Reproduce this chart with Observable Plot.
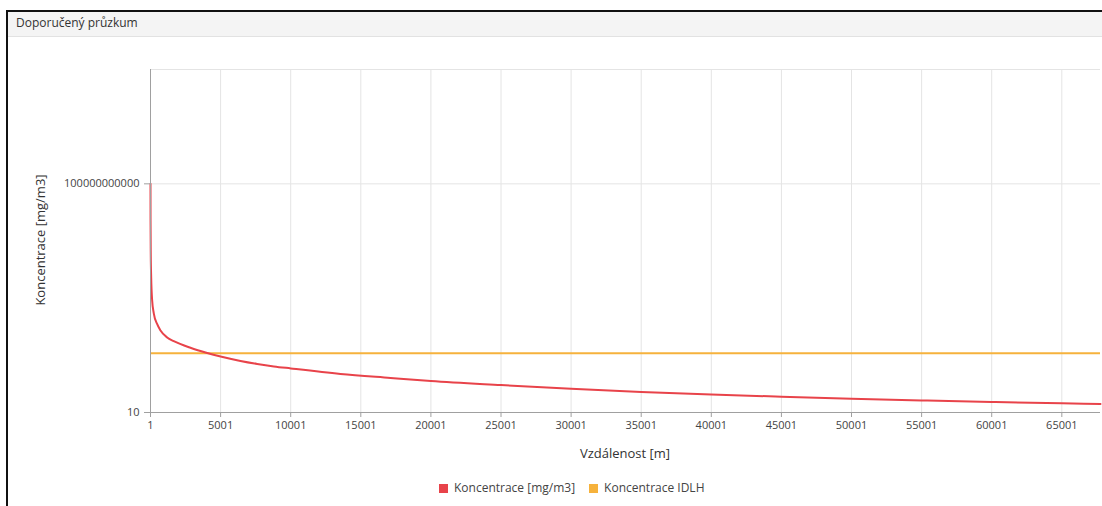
<!DOCTYPE html>
<html>
<head>
<meta charset="utf-8">
<script src="https://cdn.jsdelivr.net/npm/d3@7"></script>
<script src="https://cdn.jsdelivr.net/npm/@observablehq/plot@0.6"></script>
<style>
  html, body { margin: 0; padding: 0; background: #fff; width: 1102px; height: 506px; overflow: hidden; font-family: "Open Sans", "Noto Sans", sans-serif; }
  #panel { position: absolute; left: 6px; top: 10px; right: 0; bottom: 0; border-top: 2px solid #111; border-left: 2px solid #111; }
  #header { position: absolute; left: 8px; top: 12px; right: 0; height: 24px; background: #f4f4f4; border-bottom: 1px solid #e2e2e2; }
  #title { position: absolute; left: 16px; top: 14px; font-size: 12px; color: #333; line-height: 18px; }
  #chart { position: absolute; left: 0; top: 40px; }
  #ylabel { position: absolute; left: 40px; top: 240px; transform: translate(-50%, -50%) rotate(-90deg); font-size: 13px; color: #333; white-space: nowrap; }
  #xlabel { position: absolute; left: 625px; top: 453px; transform: translate(-50%, -50%); font-size: 13px; color: #333; white-space: nowrap; }
  #legend { position: absolute; left: 439px; top: 480px; font-size: 12px; color: #444; white-space: nowrap; line-height: 16px; }
  .item { display: inline-block; margin-right: 14px; }
  .sw { display: inline-block; width: 9px; height: 9px; margin-right: 6px; vertical-align: -0.5px; }
</style>
</head>
<body>
<div id="panel"></div>
<div id="header"></div>
<div id="title">Doporučený průzkum</div>
<div id="chart"></div>
<div id="ylabel">Koncentrace [mg/m3]</div>
<div id="xlabel">Vzdálenost [m]</div>
<div id="legend"></div>
<script>
// Distance from source [m]
const distances = [1, 5, 20, 50, 120, 235, 480, 715, 1190, 1660, 2850, 4045, 5000, 6420, 7610, 8800, 10000, 13550, 17120, 20000, 25000, 30000, 35000, 40000, 45000, 50000, 55000, 60000, 65000, 67760];
// Concentration [mg/m3]
const concentration = [1e11, 2.5e9, 8e7, 8e6, 7.9e5, 2.18e5, 7.26e4, 3.85e4, 1.9e4, 1.32e4, 6745, 4000, 2812, 1803, 1334, 1038, 849, 488, 326, 238, 158, 109, 79.6, 61.2, 49.1, 40.1, 33.8, 29.0, 25.2, 23.6];
// IDLH concentration [mg/m3]
const idlh = 3900;
const xTicks = [1, 5001, 10001, 15001, 20001, 25001, 30001, 35001, 40001, 45001, 50001, 55001, 60001, 65001];
const yTicks = [10, 1e11];
const yGrid = [10, 1e11, 1e16];
const seriesNames = ["Koncentrace [mg/m3]", "Koncentrace IDLH"];
const colors = ["#e8434a", "#f6b23c"];

const data = distances.map((d, i) => ({d, c: concentration[i]}));

const chart = Plot.plot({
  width: 1102,
  height: 395,
  marginLeft: 150,
  marginRight: 2,
  marginTop: 29,
  marginBottom: 23,
  style: {fontFamily: "'Open Sans', 'Noto Sans', sans-serif", fontSize: "11px", color: "#444", background: "transparent"},
  x: {type: "linear", domain: [1, 67760]},
  y: {type: "log", domain: [10, 1e16]},
  marks: [
    Plot.gridX(xTicks, {stroke: "#e4e4e4", strokeOpacity: 1}),
    Plot.gridY(yGrid, {stroke: "#e4e4e4", strokeOpacity: 1}),
    Plot.ruleY([idlh], {stroke: colors[1], strokeWidth: 2}),
    Plot.line(data, {x: "d", y: "c", stroke: colors[0], strokeWidth: 2, curve: "monotone-x"}),
    Plot.axisX(xTicks, {tickSize: 5, tickPadding: 4, stroke: "#a0a0a0", fill: "#444", label: null, tickFormat: d => String(d)}),
    Plot.axisY(yTicks, {tickSize: 6, tickPadding: 5, stroke: "#a0a0a0", fill: "#444", label: null, tickFormat: d => String(d)}),
    Plot.ruleX([1], {stroke: "#a0a0a0"}),
    Plot.ruleY([10], {stroke: "#a0a0a0"})
  ]
});
document.getElementById("chart").appendChild(chart);

const legend = document.getElementById("legend");
seriesNames.forEach((name, i) => {
  const item = document.createElement("span");
  item.className = "item";
  item.innerHTML = `<span class="sw" style="background:${colors[i]}"></span>${name}`;
  legend.appendChild(item);
});
</script>
</body>
</html>
